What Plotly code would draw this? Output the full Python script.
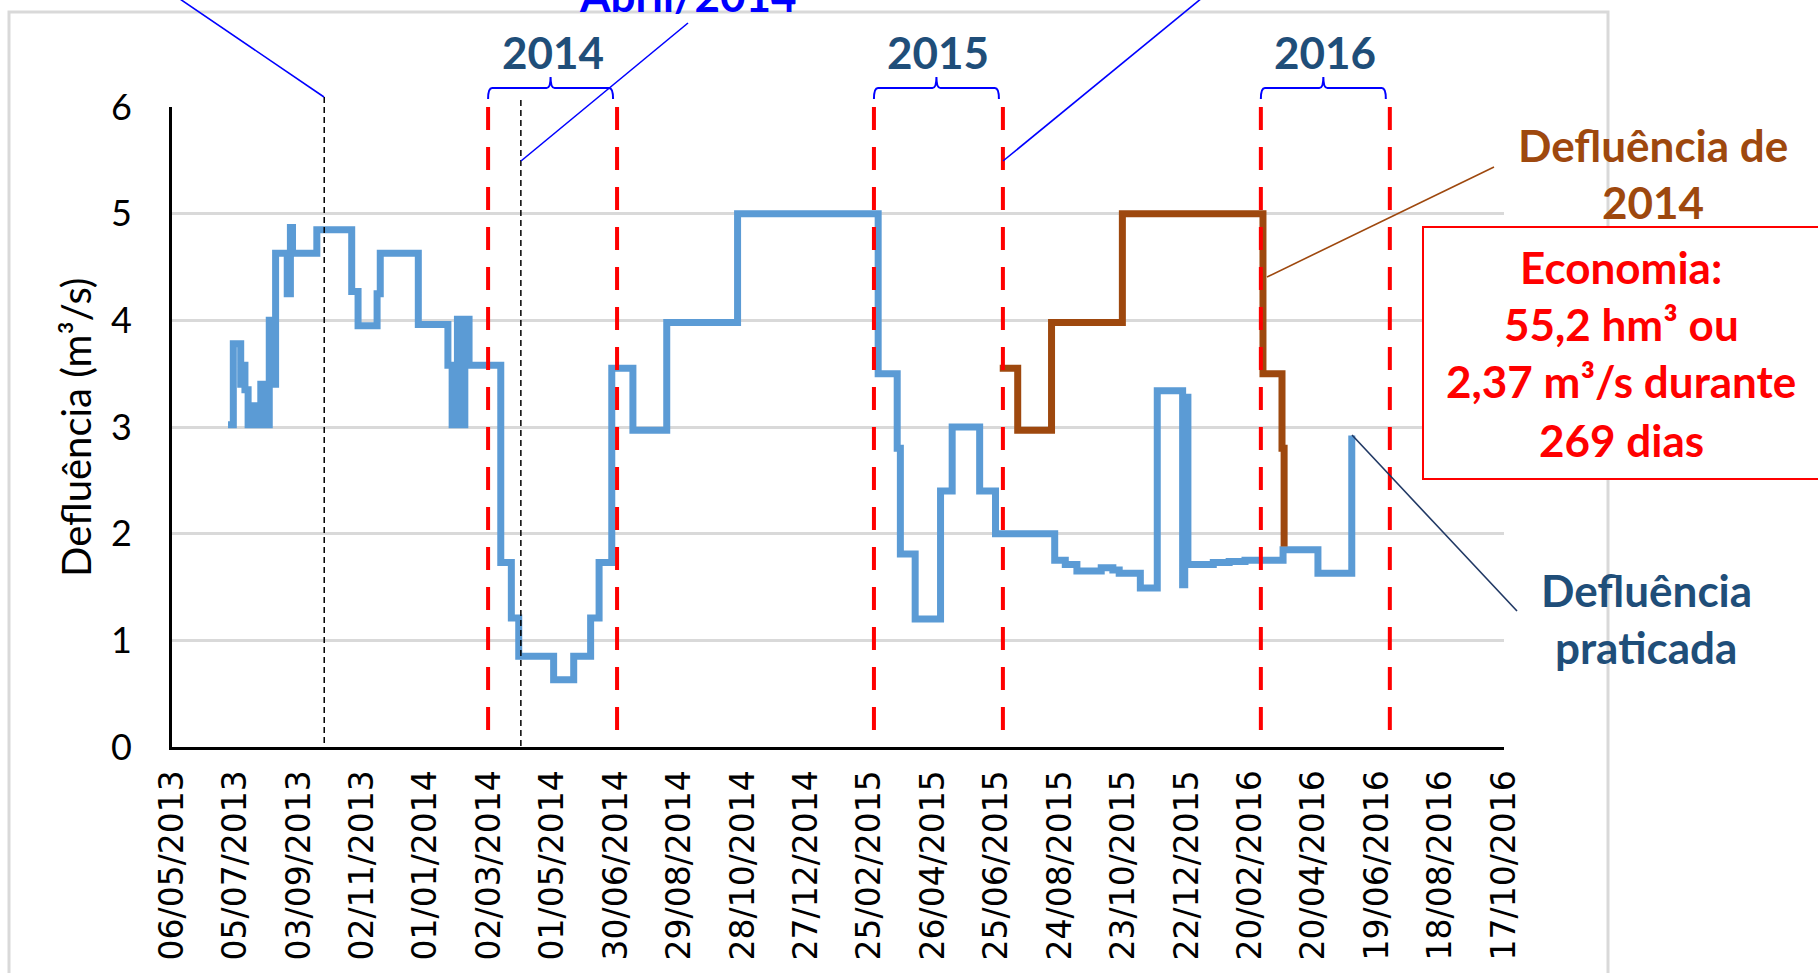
import plotly.graph_objects as go
from datetime import date

# ---------------- data ----------------
blue_dates = [
    "2013-06-28", "2013-07-03", "2013-07-10", "2013-07-12", "2013-07-14", "2013-07-17",
    "2013-07-23", "2013-07-25", "2013-07-29", "2013-08-03", "2013-08-06", "2013-08-09",
    "2013-08-12", "2013-08-23", "2013-08-26", "2013-08-28", "2013-09-20", "2013-10-23",
    "2013-10-29", "2013-11-16", "2013-11-19", "2013-12-25", "2014-01-22", "2014-01-26",
    "2014-01-31", "2014-02-03", "2014-02-07", "2014-02-11", "2014-03-13", "2014-03-23",
    "2014-03-30", "2014-05-02", "2014-05-21", "2014-06-06", "2014-06-14", "2014-06-26",
    "2014-07-16", "2014-08-17", "2014-10-23", "2015-03-05", "2015-03-23", "2015-03-26",
    "2015-04-09", "2015-05-03", "2015-05-14", "2015-06-09", "2015-06-24", "2015-08-19",
    "2015-08-29", "2015-09-09", "2015-10-02", "2015-10-13", "2015-10-19", "2015-11-08",
    "2015-11-24", "2015-12-18", "2015-12-20", "2015-12-23", "2016-01-16", "2016-01-31",
    "2016-02-15", "2016-03-22", "2016-04-24", "2016-05-26",
]
blue_vals = [
    3.02, 3.78, 3.40, 3.58, 3.35, 3.02,
    3.20, 3.02, 3.40, 3.02, 4.00, 3.40,
    4.63, 4.25, 4.87, 4.63, 4.85, 4.27,
    3.95, 4.25, 4.63, 3.96, 3.58, 3.02,
    4.01, 3.02, 4.01, 3.58, 1.73, 1.21,
    0.85, 0.63, 0.85, 1.21, 1.73, 3.55,
    2.97, 3.98, 5.00, 3.50, 2.80, 1.81,
    1.20, 2.40, 3.00, 2.40, 2.00, 1.75,
    1.71, 1.65, 1.68, 1.66, 1.63, 1.49,
    3.34, 1.52, 3.28, 1.71, 1.73, 1.74,
    1.75, 1.85, 1.63, 2.92,
]

brown_dates = ["2015-06-28", "2015-07-15", "2015-08-16", "2015-10-22",
               "2016-03-03", "2016-03-21", "2016-03-23"]
brown_vals = [3.55, 2.97, 3.98, 5.00, 3.50, 2.80, 1.88]

x_start, x_end = "2013-05-06", "2016-10-17"
period_bounds = [("2014-03-01", "2014-07-01"),
                 ("2015-03-01", "2015-07-01"),
                 ("2016-03-01", "2016-07-01")]
period_labels = ["2014", "2015", "2016"]
marker_dates = ["2013-09-27", "2014-04-01"]

# ---------------- layout geometry ----------------
W, H = 1818, 973
L, R, T, B = 172, 314, 107, 226
PW = W - L - R
PH = H - T - B

def px(x):
    return (x - L) / PW

def py(y):
    return (H - B - y) / PH

d0 = date.fromisoformat(x_start)
span = (date.fromisoformat(x_end) - d0).days

def dp(s, shift_px=0):
    return (date.fromisoformat(s) - d0).days / span + shift_px / PW

BLUE = "#5B9BD5"
BROWN = "#9E480E"
NAVY = "#1F4E79"
PURE = "#0000FF"
RED = "#FF0000"

fig = go.Figure()
fig.add_trace(go.Scatter(x=blue_dates, y=blue_vals, mode="lines",
                         line=dict(color=BLUE, width=7, shape="hv"),
                         name="Defluência praticada"))
fig.add_trace(go.Scatter(x=brown_dates, y=brown_vals, mode="lines",
                         line=dict(color=BROWN, width=7, shape="hv"),
                         name="Defluência de 2014"))

shapes = []
# outer chart border
shapes.append(dict(type="rect", xref="paper", yref="paper",
                   x0=px(9), x1=px(1608), y0=py(995), y1=py(12),
                   line=dict(color="#D9D9D9", width=3), layer="below"))
# red dashed period lines
for a, b in period_bounds:
    for d in (a, b):
        shapes.append(dict(type="line", xref="x", yref="paper", x0=d, x1=d,
                           y0=1, y1=0, line=dict(color=RED, width=4, dash="23px,17px"),
                           layer="above"))
# black dashed marker lines
for d, top in zip(marker_dates, (97, 100)):
    shapes.append(dict(type="line", xref="x", yref="paper", x0=d, x1=d,
                       y0=py(top), y1=0, line=dict(color="black", width=1.5, dash="6px,4px"),
                       layer="above"))
# braces
yh, ye, yt = py(88), py(99), py(77)
dd = 4 / PW
for a, b in period_bounds:
    xa = dp(a)
    xb = dp(b, -4)
    xm = (xa + xb) / 2
    path = (f"M{xa},{ye} Q{xa},{yh} {xa+dd},{yh} L{xm-dd},{yh} Q{xm},{yh} {xm},{yt} "
            f"Q{xm},{yh} {xm+dd},{yh} L{xb-dd},{yh} Q{xb},{yh} {xb},{ye}")
    shapes.append(dict(type="path", xref="paper", yref="paper", path=path,
                       line=dict(color=PURE, width=2)))
# callout lines
callouts = [
    ((324, 97), (152, -20), PURE),
    ((521, 161), (688, 23), PURE),
    ((1003, 161), (1230, -25), PURE),
    ((1267, 277), (1494, 167), BROWN),
    ((1352, 435), (1517, 611), "#203864"),
]
for (x0, y0), (x1, y1), c in callouts:
    shapes.append(dict(type="line", xref="paper", yref="paper",
                       x0=px(x0), y0=py(y0), x1=px(x1), y1=py(y1),
                       line=dict(color=c, width=1.6), layer="above"))
# red box
shapes.append(dict(type="rect", xref="paper", yref="paper",
                   x0=px(1423), x1=px(1840), y0=py(479), y1=py(227),
                   line=dict(color=RED, width=2), fillcolor="white", layer="above"))

BOLD = dict(family="Lato", weight="bold")
ann = []
for (a, b), lab in zip(period_bounds, period_labels):
    xm = (dp(a) + dp(b)) / 2
    ann.append(dict(x=xm, y=py(51.5), text=lab,
                    font=dict(size=44, color=NAVY, **BOLD)))
ann.append(dict(x=px(688), y=py(-5), text="Abril/2014",
                font=dict(size=44, color=PURE, **BOLD)))
for txt, yc in (("Defluência de", 145), ("2014", 202)):
    ann.append(dict(x=px(1653), y=py(yc), text=txt, font=dict(size=44, color=BROWN, **BOLD)))
for txt, yc in (("Economia:", 267), ("55,2 hm³ ou", 324), ("2,37 m³/s durante", 381), ("269 dias", 440)):
    ann.append(dict(x=px(1621), y=py(yc), text=txt, font=dict(size=44, color=RED, **BOLD)))
for txt, yc in (("Defluência", 590), ("praticada", 647)):
    ann.append(dict(x=px(1646), y=py(yc), text=txt, font=dict(size=44, color=NAVY, **BOLD)))
ann.append(dict(x=px(76), y=0.5, text="Defluência (m³/s)", textangle=-90,
                font=dict(family="Lato", size=40, color="black")))
for a in ann:
    a.update(xref="paper", yref="paper", showarrow=False, xanchor="center", yanchor="middle")

fig.update_layout(
    width=W, height=H, autosize=False,
    margin=dict(l=L, r=R, t=T, b=B, pad=0),
    paper_bgcolor="white", plot_bgcolor="white",
    showlegend=False,
    shapes=shapes, annotations=ann,
    xaxis=dict(type="date", range=[x_start, x_end], tick0=x_start, automargin=False,
               dtick=60 * 86400000, tickformat="%d/%m/%Y", tickangle=-90,
               showgrid=False, zeroline=False, showline=True, linecolor="black",
               linewidth=3, ticks="", ticklabelstandoff=7,
               tickfont=dict(family="DejaVu Sans", size=33, color="black")),
    yaxis=dict(range=[0, 6], dtick=1, tick0=0, showgrid=True, gridcolor="#D9D9D9",
               gridwidth=2.5, zeroline=False, showline=True, linecolor="black",
               linewidth=3, ticks="", ticklabelstandoff=30, automargin=False,
               tickfont=dict(family="Lato", size=36, color="black")),
)

fig.write_html("out.html", config={"displayModeBar": False},
               post_script="document.body.style.margin='0';document.body.style.overflow='hidden';")
